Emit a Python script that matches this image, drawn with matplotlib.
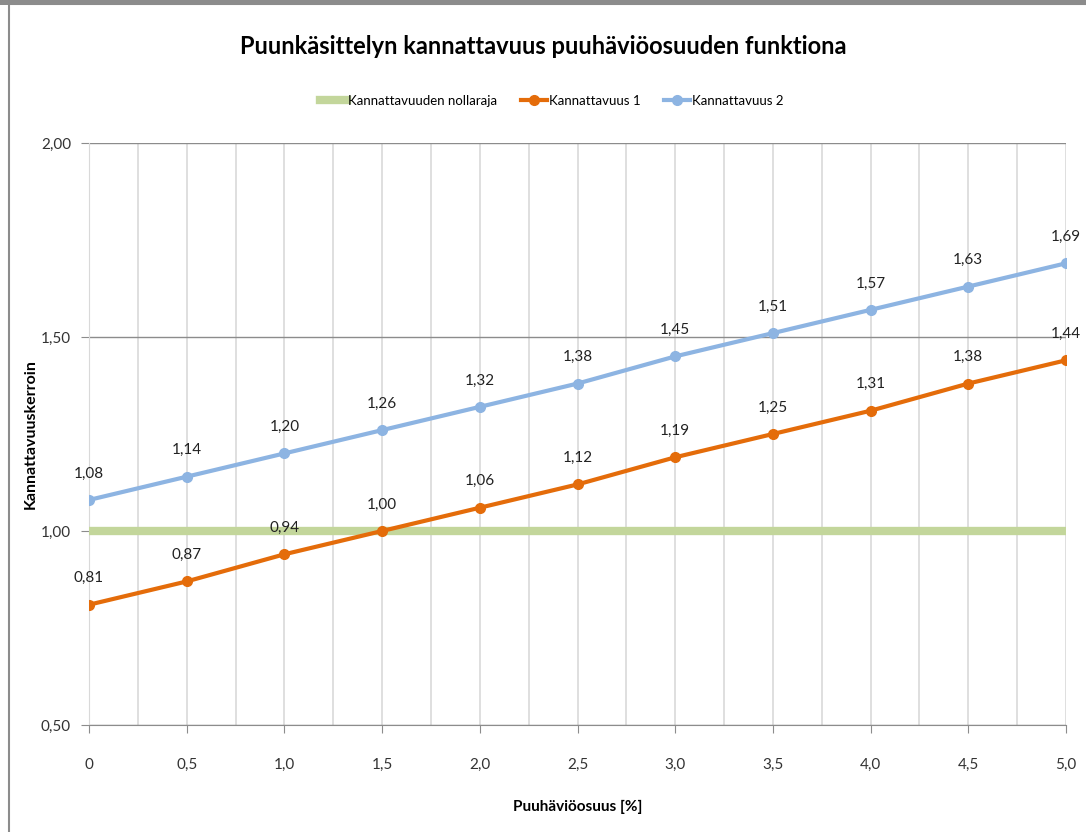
import matplotlib
matplotlib.use("Agg")
import matplotlib.pyplot as plt
from matplotlib.patches import Rectangle
from matplotlib.ticker import MultipleLocator, FuncFormatter

plt.rcParams['font.family'] = ['Lato', 'DejaVu Sans']

# data
x = [0, 0.5, 1.0, 1.5, 2.0, 2.5, 3.0, 3.5, 4.0, 4.5, 5.0]
kannattavuus1 = [0.81, 0.87, 0.94, 1.00, 1.06, 1.12, 1.19, 1.25, 1.31, 1.38, 1.44]
kannattavuus2 = [1.08, 1.14, 1.20, 1.26, 1.32, 1.38, 1.45, 1.51, 1.57, 1.63, 1.69]
nollaraja = [1.0] * len(x)

green = '#C3D69B'
orange = '#E46C0A'
blue = '#8DB4E2'

fig = plt.figure(figsize=(10.86, 8.32), dpi=100)
# chart border like in the spreadsheet
fig.patches.append(Rectangle((9 / 1086, -0.01), 1.1, 1.0 - 4 / 832 + 0.01, transform=fig.transFigure,
                             fill=False, edgecolor='#8C8C8C', linewidth=1.5))
fig.patches.append(Rectangle((0, 1 - 5 / 832), 1, 5 / 832, transform=fig.transFigure,
                             facecolor='#8C8C8C', edgecolor='none'))

ax = fig.add_axes([89 / 1086, 1 - 725 / 832, (1066 - 89) / 1086, (725 - 143) / 832])

ax.plot(x, nollaraja, color=green, linewidth=6, label='Kannattavuuden nollaraja', zorder=3)
ax.plot(x, kannattavuus1, color=orange, linewidth=3, marker='o', markersize=7,
        label='Kannattavuus 1', zorder=4)
ax.plot(x, kannattavuus2, color=blue, linewidth=3, marker='o', markersize=7,
        label='Kannattavuus 2', zorder=4)

for xi, yi in zip(x, kannattavuus1):
    ax.annotate(f'{yi:.2f}'.replace('.', ','), (xi, yi), xytext=(0, 14), textcoords='offset points',
                ha='center', va='bottom', fontsize=11, color='#222222', zorder=5)
for xi, yi in zip(x, kannattavuus2):
    ax.annotate(f'{yi:.2f}'.replace('.', ','), (xi, yi), xytext=(0, 14), textcoords='offset points',
                ha='center', va='bottom', fontsize=11, color='#222222', zorder=5)

ax.set_xlim(0, 5.0)
ax.set_ylim(0.5, 2.0)
ax.xaxis.set_major_locator(MultipleLocator(0.5))
ax.xaxis.set_minor_locator(MultipleLocator(0.25))
ax.yaxis.set_major_locator(MultipleLocator(0.5))
ax.xaxis.set_major_formatter(FuncFormatter(lambda v, p: '0' if v == 0 else f'{v:.1f}'.replace('.', ',')))
ax.yaxis.set_major_formatter(FuncFormatter(lambda v, p: f'{v:.2f}'.replace('.', ',')))

ax.grid(axis='x', which='both', color='#D9D9D9', linewidth=1.2)
ax.grid(axis='y', which='major', color='#8C8C8C', linewidth=1.0)
ax.set_axisbelow(True)

for s in ['top', 'right']:
    ax.spines[s].set_visible(False)
ax.spines['left'].set_color('#D9D9D9')
ax.spines['bottom'].set_color('#8C8C8C')
ax.tick_params(axis='both', which='major', length=6, color='#8C8C8C', labelsize=11, labelcolor='#333333')
ax.tick_params(axis='x', which='major', pad=18)
ax.tick_params(axis='y', which='major', pad=7)
ax.tick_params(axis='x', which='minor', length=0)

ax.set_xlabel('Puuhäviöosuus [%]', fontsize=11, fontweight='bold')
ax.xaxis.set_label_coords(0.5, -(800 - 725) / 582)
ax.set_ylabel('Kannattavuuskerroin', fontsize=11.5, fontweight='bold')
ax.yaxis.set_label_coords(-(89 - 38) / 977, 0.5)

fig.text(0.5, 1 - 47 / 832, 'Puunkäsittelyn kannattavuus puuhäviöosuuden funktiona',
         ha='center', va='center', fontsize=17, fontweight='bold')

fig.legend(loc='center', bbox_to_anchor=(0.508, 1 - 101 / 832), ncol=3, frameon=False,
           fontsize=9.5, handlelength=2.0, columnspacing=1.8, handletextpad=0.1)

fig.savefig('out.png', dpi=100, facecolor='white')
